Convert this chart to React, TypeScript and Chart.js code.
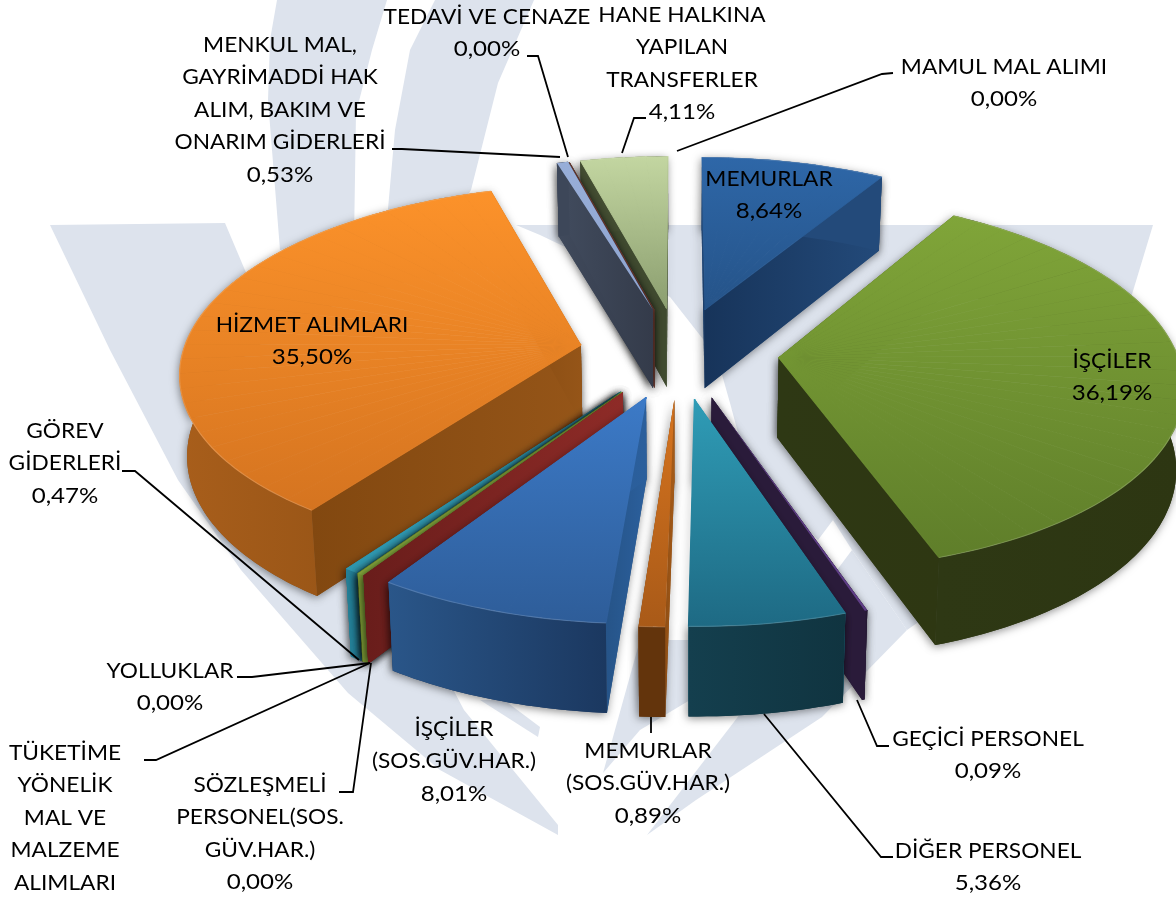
import React, { useEffect, useRef } from "react";
import { Chart, registerables } from "chart.js";

Chart.register(...registerables);

// ---------- data ----------
const categories = [
  "MEMURLAR", "İŞÇİLER", "GEÇİCİ PERSONEL", "DİĞER PERSONEL",
  "MEMURLAR (SOS.GÜV.HAR.)", "İŞÇİLER (SOS.GÜV.HAR.)", "SÖZLEŞMELİ PERSONEL(SOS. GÜV.HAR.)",
  "TÜKETİME YÖNELİK MAL VE MALZEME ALIMLARI", "YOLLUKLAR", "GÖREV GİDERLERİ", "HİZMET ALIMLARI",
  "MENKUL MAL, GAYRİMADDİ HAK ALIM, BAKIM VE ONARIM GİDERLERİ", "TEDAVİ VE CENAZE",
  "HANE HALKINA YAPILAN TRANSFERLER", "MAMUL MAL ALIMI",
];
const values = [8.64, 36.19, 0.09, 5.36, 0.89, 8.01, 0.0, 0.21, 0.0, 0.47, 35.5, 0.53, 0.0, 4.11, 0.0];
const labelLines = [
  ["MEMURLAR"], ["İŞÇİLER"], ["GEÇİCİ PERSONEL"], ["DİĞER PERSONEL"],
  ["MEMURLAR", "(SOS.GÜV.HAR.)"], ["İŞÇİLER", "(SOS.GÜV.HAR.)"], ["SÖZLEŞMELİ", "PERSONEL(SOS.", "GÜV.HAR.)"],
  ["TÜKETİME", "YÖNELİK", "MAL VE", "MALZEME", "ALIMLARI"], ["YOLLUKLAR"], ["GÖREV", "GİDERLERİ"], ["HİZMET ALIMLARI"],
  ["MENKUL MAL,", "GAYRİMADDİ HAK", "ALIM, BAKIM VE", "ONARIM GİDERLERİ"], ["TEDAVİ VE CENAZE"],
  ["HANE HALKINA", "YAPILAN", "TRANSFERLER"], ["MAMUL MAL ALIMI"],
];
const percentCutOff = [7]; // the picture ends before this label's percent line

// ---------- styles ----------
const topLight = ["#2e67a8", "#80a539", "#5f3e87", "#2f9cb6", "#d6741f", "#3c7ac7", "#8c2a27", "#86aa3c", "#86aa3c", "#2f98b0", "#fc922a", "#98aed8", "#b04a3a", "#c3d6a1", "#999999"];
const topDark = ["#255388", "#5f7e2a", "#5f3e87", "#1e6a84", "#a95a18", "#2e5d99", "#8c2a27", "#86aa3c", "#86aa3c", "#2f98b0", "#d57420", "#8ea4cf", "#b04a3a", "#8b9e6f", "#999999"];
const rimLeft = ["#234a7a", "#2e3814", "#2a1b3a", "#143f4e", "#63340c", "#2a5689", "#6a1d1c", "#7f9f36", "#7f9f36", "#237f98", "#a85e1b", "#3d4759", "#6b3a30", "#434d31", "#888888"];
const rimRight = ["#234a7a", "#2d3612", "#231730", "#103440", "#63340c", "#1b3860", "#6a1d1c", "#7f9f36", "#7f9f36", "#237f98", "#8a4d13", "#3d4759", "#6b3a30", "#434d31", "#888888"];
const cutApex = ["#17345a", "#2e3814", "#2a1b3a", "#1c6a82", "#a45a18", "#2b5f9c", "#8e2b27", "#7f9f36", "#7f9f36", "#2587a0", "#955518", "#343b4a", "#6b3a30", "#3f4a2f", "#888888"];
const cutRim = ["#234a7a", "#2e3712", "#2a1b3a", "#1c6a82", "#8f4e14", "#265488", "#691d1b", "#7f9f36", "#7f9f36", "#2587a0", "#824810", "#404a5c", "#6b3a30", "#3f4a2f", "#888888"];

const PALE = "#dde3ed";
const FONT = '21.5px Lato, "Open Sans", sans-serif';
const TEXT_STRETCH = 1.055;
const PERCENT_STRETCH = 1.12;
const LINE_H = 32.5;

// Camera model of the tilted, exploded pie.
const CX = 679, CY = 352.5, TILT = 0.46, FOCAL = 3000, EXPLODE = 100;
const RADIUS = 398;

// Label anchors: centre x and first-line mid y, index-aligned with categories.
const labelAnchors: [number, number][] = [
  [769, 179], [1112, 361], [988, 739], [988, 851], [648, 751], [454, 729], [260, 785],
  [65, 753], [170, 671], [65, 431], [312, 325], [280, 45], [487, 17], [682, 15], [1004, 67],
];
const leaders: [number, number][][] = [
  [], [],
  [[857, 700], [877, 746], [889, 746]],
  [[764, 714], [881, 857], [893, 857]],
  [[651, 717], [651, 733]],
  [],
  [[371, 663], [353, 792], [339, 792]],
  [[370, 663], [156, 760], [144, 760]],
  [[370, 663], [252, 677], [237, 677]],
  [[359, 660], [135, 471], [122, 471]],
  [],
  [[560, 157], [402, 149], [392, 149]],
  [[568, 157], [538, 56], [527, 56]],
  [[622, 153], [634, 118], [646, 118]],
  [[677, 151], [882, 74], [893, 73]],
];

// Watermark behind the chart.
const watermark: [number, number][][] = [
  [[50, 225], [225, 223], [300, 400], [464, 710], [558, 825], [558, 835], [440, 770], [348, 693], [241, 570], [178, 480], [110, 350]],
  [[504, 700], [540, 727], [538, 737], [480, 700]],
  [[277, 0], [387, 0], [372, 50], [356, 113], [354, 240], [280, 250], [268, 100], [270, 40]],
  [[435, 0], [534, 0], [498, 83], [471, 190], [455, 215], [387, 220], [395, 130], [410, 50]],
  [[516, 225], [1153, 225], [1100, 400], [900, 480], [833, 520], [818, 540], [748, 470], [730, 403], [717, 357], [670, 297], [540, 235]],
  [[833, 520], [900, 480], [950, 600], [907, 630], [852, 550]],
  [[647, 835], [737, 718], [837, 570], [852, 550], [907, 630], [822, 717], [696, 800]],
  [[603, 773], [640, 640], [690, 640], [690, 700], [640, 730]],
];

type Pt = { x: number; y: number };

function project(px: number, py: number): Pt {
  const w = 1 - py / FOCAL;
  return { x: CX + px / w, y: CY + (TILT * py) / w };
}
function lower(p: Pt): Pt {
  return { x: CX + (p.x - CX) * 0.985, y: p.y + 73 + (p.y - 154) * 0.036 };
}
function fillPoly(ctx: CanvasRenderingContext2D, pts: Pt[], style: string | CanvasGradient) {
  ctx.beginPath();
  pts.forEach((p, i) => (i ? ctx.lineTo(p.x, p.y) : ctx.moveTo(p.x, p.y)));
  ctx.closePath();
  ctx.fillStyle = style;
  ctx.fill();
}

const piePlugin = {
  id: "tiltedPie",
  beforeDraw(chart: any) {
    const ctx: CanvasRenderingContext2D = chart.ctx;
    ctx.save();
    ctx.fillStyle = "#ffffff";
    ctx.fillRect(0, 0, chart.width, chart.height);
    ctx.fillStyle = PALE;
    watermark.forEach((poly) => {
      ctx.beginPath();
      poly.forEach(([x, y], i) => (i ? ctx.lineTo(x, y) : ctx.moveTo(x, y)));
      ctx.closePath();
      ctx.fill();
    });
    ctx.restore();
  },
  beforeDatasetDraw(chart: any) {
    const ctx: CanvasRenderingContext2D = chart.ctx;
    const arcs: any[] = chart.getDatasetMeta(0).data;
    const order = arcs
      .map((_, i) => i)
      .sort((p, q) => {
        const hp = (arcs[p].startAngle + arcs[p].endAngle) / 2;
        const hq = (arcs[q].startAngle + arcs[q].endAngle) / 2;
        return Math.sin(hp) - Math.sin(hq);
      });

    order.forEach((i) => {
      const arc = arcs[i];
      const a0: number = arc.startAngle;
      const a1: number = arc.endAngle;
      const h = (a0 + a1) / 2;
      const R: number = arc.outerRadius;
      const ox = EXPLODE * Math.cos(h);
      const oy = EXPLODE * Math.sin(h);
      const apex = project(ox, oy);
      const rimAt = (t: number) => project(ox + R * Math.cos(t), oy + R * Math.sin(t));
      const s1 = rimAt(a0);
      const s2 = rimAt(a1);
      const span = a1 - a0;

      const rim: Pt[] = [];
      const steps = Math.max(2, Math.ceil(span / 0.02));
      for (let k = 0; k <= steps; k++) rim.push(rimAt(a0 + (span * k) / steps));
      const xs = rim.map((p) => p.x);
      const ys = rim.map((p) => p.y).concat(apex.y);
      const minX = Math.min(...xs), maxX = Math.max(...xs, minX + 1);
      const minY = Math.min(...ys), maxY = Math.max(...ys, minY + 1);

      const rimGrad = ctx.createLinearGradient(minX, 0, maxX, 0);
      rimGrad.addColorStop(0, rimLeft[i]);
      rimGrad.addColorStop(1, rimRight[i]);

      const cutPaint = (end: Pt) => {
        const g = ctx.createLinearGradient(apex.x, 0, end.x === apex.x ? apex.x + 1 : end.x, 0);
        g.addColorStop(0, cutApex[i]);
        g.addColorStop(1, cutRim[i]);
        return g;
      };
      const quad = (end: Pt) => [apex, end, lower(end), lower(apex)];
      const rimWall = rim.concat(rim.slice().reverse().map(lower));

      ctx.save();
      ctx.shadowColor = "rgba(0,0,0,0.45)";
      ctx.shadowBlur = 8;
      ctx.shadowOffsetX = -1;
      ctx.shadowOffsetY = 2;
      fillPoly(ctx, quad(s1), cutRim[i]);
      fillPoly(ctx, quad(s2), cutRim[i]);
      fillPoly(ctx, rimWall, rimRight[i]);
      ctx.restore();

      fillPoly(ctx, quad(s1), cutPaint(s1));
      fillPoly(ctx, quad(s2), cutPaint(s2));
      fillPoly(ctx, rimWall, rimGrad);

      if (span > 1e-5) {
        // The library's arc element draws the top face, wedge by wedge, each wedge
        // under the affine map fixed by the projected apex and wedge rim ends.
        const pieces = Math.max(1, Math.ceil(span / 0.08));
        const original = arc.options;
        const saved = { s: arc.startAngle, e: arc.endAngle, c: arc.circumference };
        for (let k = 0; k < pieces; k++) {
          const t0 = a0 + (span * k) / pieces;
          const t1 = a0 + (span * (k + 1)) / pieces;
          const p1 = rimAt(t0), p2 = rimAt(t1);
          const l1x = R * Math.cos(t0), l1y = R * Math.sin(t0);
          const l2x = R * Math.cos(t1), l2y = R * Math.sin(t1);
          const det = l1x * l2y - l1y * l2x;
          const d1x = p1.x - apex.x, d1y = p1.y - apex.y;
          const d2x = p2.x - apex.x, d2y = p2.y - apex.y;
          const a = (d1x * l2y - d2x * l1y) / det;
          const b = (d2x * l1x - d1x * l2x) / det;
          const c = (d1y * l2y - d2y * l1y) / det;
          const d = (d2y * l1x - d1y * l2x) / det;
          const e = apex.x - a * arc.x - b * arc.y;
          const f = apex.y - c * arc.x - d * arc.y;

          ctx.save();
          ctx.transform(a, c, b, d, e, f);
          const n = c * c + d * d;
          const y0 = (minY - f) / n, y1 = (maxY - f) / n;
          const grad = ctx.createLinearGradient(c * y0, d * y0, c * y1, d * y1);
          grad.addColorStop(0, topLight[i]);
          grad.addColorStop(1, topDark[i]);
          const patched = Object.create(original);
          patched.backgroundColor = grad;
          // neighbouring wedges share the same gradient; a hairline of it closes the seam
          patched.borderColor = grad;
          patched.borderWidth = pieces > 1 ? 1.2 : 0;
          patched.borderAlign = "center";
          arc.options = patched;
          arc.startAngle = t0;
          arc.endAngle = t1;
          arc.circumference = t1 - t0;
          arc.draw(ctx);
          ctx.restore();
        }
        arc.options = original;
        arc.startAngle = saved.s;
        arc.endAngle = saved.e;
        arc.circumference = saved.c;

        if (span > 0.05) {
          ctx.save();
          ctx.beginPath();
          rim.forEach((p, k) => (k ? ctx.lineTo(p.x, p.y) : ctx.moveTo(p.x, p.y)));
          ctx.strokeStyle = "rgba(255,255,255,0.15)";
          ctx.lineWidth = 1.2;
          ctx.stroke();
          ctx.restore();
        }
      }
    });
    return false;
  },
  afterDraw(chart: any) {
    const ctx: CanvasRenderingContext2D = chart.ctx;
    ctx.save();
    ctx.strokeStyle = "#000000";
    ctx.lineWidth = 1.8;
    leaders.forEach((pts) => {
      if (!pts.length) return;
      ctx.beginPath();
      pts.forEach(([x, y], k) => (k ? ctx.lineTo(x, y) : ctx.moveTo(x, y)));
      ctx.stroke();
    });
    ctx.fillStyle = "#000000";
    ctx.font = FONT;
    ctx.textAlign = "center";
    ctx.textBaseline = "middle";
    categories.forEach((_, i) => {
      const lines = labelLines[i].map((t) => ({ t, s: TEXT_STRETCH }));
      if (!percentCutOff.includes(i)) lines.push({ t: values[i].toFixed(2).replace(".", ",") + "%", s: PERCENT_STRETCH });
      const [x, y] = labelAnchors[i];
      lines.forEach(({ t, s }, k) => {
        ctx.save();
        ctx.translate(x, y + k * LINE_H);
        ctx.scale(s, 1);
        ctx.fillText(t, 0, 0);
        ctx.restore();
      });
    });
    ctx.restore();
  },
};

export default function App() {
  const ref = useRef<HTMLCanvasElement>(null);
  useEffect(() => {
    const chart = new Chart(ref.current as HTMLCanvasElement, {
      type: "pie",
      data: {
        labels: categories,
        datasets: [{ data: values, backgroundColor: topLight, borderWidth: 0 }],
      },
      options: {
        animation: false,
        responsive: false,
        radius: RADIUS,
        layout: { padding: 0 },
        plugins: { legend: { display: false }, tooltip: { enabled: false } },
      },
      plugins: [piePlugin],
    } as any);
    return () => chart.destroy();
  }, []);
  return (
    <div style={{ position: "absolute", left: 0, top: 0, width: 1176, height: 898, overflow: "hidden" }}>
      <canvas ref={ref} width={1176} height={898} style={{ display: "block" }} />
    </div>
  );
}
